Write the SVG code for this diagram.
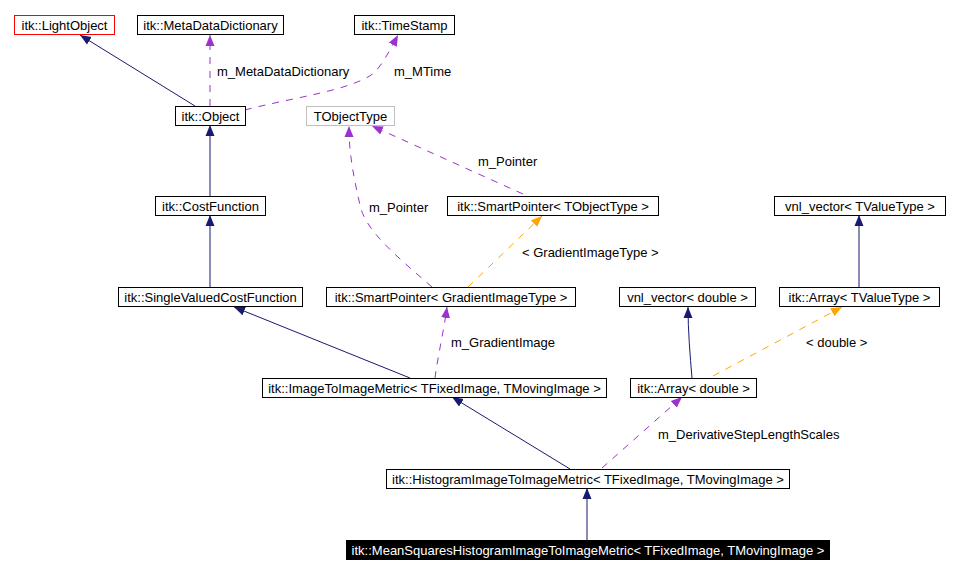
<svg xmlns="http://www.w3.org/2000/svg" width="958" height="574" viewBox="0 0 958 574">
<style>
.box{fill:#fff;stroke:#000;stroke-width:1}
.t{font-family:"Liberation Sans",Arial,sans-serif;font-size:13px;fill:#000}
.lbl{font-family:"Liberation Sans",Arial,sans-serif;font-size:13px;fill:#000}
.inh{fill:none;stroke:#191970;stroke-width:1}
.use{fill:none;stroke:#9a32cd;stroke-width:1;stroke-dasharray:7,7}
.tpl{fill:none;stroke:#ffa500;stroke-width:1;stroke-dasharray:7,7}
</style>
<defs>
<marker id="aN" markerUnits="userSpaceOnUse" markerWidth="12" markerHeight="10" refX="11" refY="4.5" orient="auto" viewBox="0 0 12 9"><path d="M0,0 L11,4.5 L0,9 z" fill="#191970"/></marker>
<marker id="aP" markerUnits="userSpaceOnUse" markerWidth="12" markerHeight="10" refX="11" refY="4.5" orient="auto" viewBox="0 0 12 9"><path d="M0,0 L11,4.5 L0,9 z" fill="#9a32cd"/></marker>
<marker id="aO" markerUnits="userSpaceOnUse" markerWidth="12" markerHeight="10" refX="11" refY="4.5" orient="auto" viewBox="0 0 12 9"><path d="M0,0 L11,4.5 L0,9 z" fill="#ffa500"/></marker>
</defs>
<rect width="958" height="574" fill="#fff"/>
<g id="connectors">
<path class="inh" d="M195,106 L80,35" marker-end="url(#aN)"/>
<path class="use" d="M210,106 L210,35" marker-end="url(#aP)"/>
<path class="use" d="M245,110 C290,98 355,90 375,72 C384,62 390,50 398,35" marker-end="url(#aP)"/>
<path class="inh" d="M210,196 L210,125" marker-end="url(#aN)"/>
<path class="inh" d="M210,287 L210,215" marker-end="url(#aN)"/>
<path class="inh" d="M410,378 L234,307" marker-end="url(#aN)"/>
<path class="use" d="M435,378 C438,355 444,330 447,307" marker-end="url(#aP)"/>
<path class="use" d="M432,287 C395,255 365,230 360,205 C352,170 349,150 349,126" marker-end="url(#aP)"/>
<path class="use" d="M523,194 L372,126" marker-end="url(#aP)"/>
<path class="tpl" d="M468,287 L542,216" marker-end="url(#aO)"/>
<path class="inh" d="M692,378 C690,355 688,330 688,307" marker-end="url(#aN)"/>
<path class="tpl" d="M713,376 L842,307" marker-end="url(#aO)"/>
<path class="inh" d="M859,287 L859,215" marker-end="url(#aN)"/>
<path class="inh" d="M570,469 L452,397" marker-end="url(#aN)"/>
<path class="use" d="M602,468 L682,397" marker-end="url(#aP)"/>
<path class="inh" d="M587,540 L587,488" marker-end="url(#aN)"/>
<text class="lbl" x="217" y="76">m_MetaDataDictionary</text>
<text class="lbl" x="394" y="76">m_MTime</text>
<text class="lbl" x="478" y="166">m_Pointer</text>
<text class="lbl" x="369" y="212">m_Pointer</text>
<text class="lbl" x="522" y="257">&lt; GradientImageType &gt;</text>
<text class="lbl" x="451" y="347">m_GradientImage</text>
<text class="lbl" x="806" y="347">&lt; double &gt;</text>
<text class="lbl" x="658" y="439">m_DerivativeStepLengthScales</text>
</g>
<g id="LightObject"><rect class="box" x="14.5" y="15.5" width="100" height="19" style="stroke:#f00"/><text class="t" x="64.5" y="29.5" text-anchor="middle">itk::LightObject</text></g>
<g id="MetaDataDictionary"><rect class="box" x="137.5" y="15.5" width="146" height="19"/><text class="t" x="210.5" y="29.5" text-anchor="middle">itk::MetaDataDictionary</text></g>
<g id="TimeStamp"><rect class="box" x="354.5" y="15.5" width="100" height="19"/><text class="t" x="404.5" y="29.5" text-anchor="middle">itk::TimeStamp</text></g>
<g id="Object"><rect class="box" x="175.5" y="106.5" width="70" height="19"/><text class="t" x="210.5" y="120.5" text-anchor="middle">itk::Object</text></g>
<g id="TObjectType"><rect class="box" x="306.5" y="106.5" width="88" height="19" style="stroke:#bfbfbf"/><text class="t" x="350.5" y="120.5" text-anchor="middle">TObjectType</text></g>
<g id="CostFunction"><rect class="box" x="155.5" y="196.5" width="110" height="19"/><text class="t" x="210.5" y="210.5" text-anchor="middle">itk::CostFunction</text></g>
<g id="SmartPointerTObjectType"><rect class="box" x="447.5" y="196.5" width="211" height="19"/><text class="t" x="553" y="210.5" text-anchor="middle">itk::SmartPointer&lt; TObjectType &gt;</text></g>
<g id="vnlVectorTValueType"><rect class="box" x="774.5" y="196.5" width="171" height="19"/><text class="t" x="860" y="210.5" text-anchor="middle">vnl_vector&lt; TValueType &gt;</text></g>
<g id="SingleValuedCostFunction"><rect class="box" x="118.5" y="287.5" width="184" height="19"/><text class="t" x="210.5" y="301.5" text-anchor="middle">itk::SingleValuedCostFunction</text></g>
<g id="SmartPointerGradientImageType"><rect class="box" x="326.5" y="287.5" width="249" height="19"/><text class="t" x="451" y="301.5" text-anchor="middle">itk::SmartPointer&lt; GradientImageType &gt;</text></g>
<g id="vnlVectorDouble"><rect class="box" x="619.5" y="287.5" width="136" height="19"/><text class="t" x="687.5" y="301.5" text-anchor="middle">vnl_vector&lt; double &gt;</text></g>
<g id="ArrayTValueType"><rect class="box" x="779.5" y="287.5" width="160" height="19"/><text class="t" x="859.5" y="301.5" text-anchor="middle">itk::Array&lt; TValueType &gt;</text></g>
<g id="ImageToImageMetric"><rect class="box" x="262.5" y="378.5" width="344" height="19"/><text class="t" x="434.5" y="392.5" text-anchor="middle">itk::ImageToImageMetric&lt; TFixedImage, TMovingImage &gt;</text></g>
<g id="ArrayDouble"><rect class="box" x="630.5" y="378.5" width="126" height="19"/><text class="t" x="693.5" y="392.5" text-anchor="middle">itk::Array&lt; double &gt;</text></g>
<g id="HistogramImageToImageMetric"><rect class="box" x="386.5" y="469.5" width="403" height="19"/><text class="t" x="588" y="483.5" text-anchor="middle">itk::HistogramImageToImageMetric&lt; TFixedImage, TMovingImage &gt;</text></g>
<g id="MeanSquaresHistogramImageToImageMetric"><rect x="346" y="540" width="484" height="20" fill="#000"/><text class="t" x="588" y="554.5" text-anchor="middle" style="fill:#fff">itk::MeanSquaresHistogramImageToImageMetric&lt; TFixedImage, TMovingImage &gt;</text></g>
</svg>
